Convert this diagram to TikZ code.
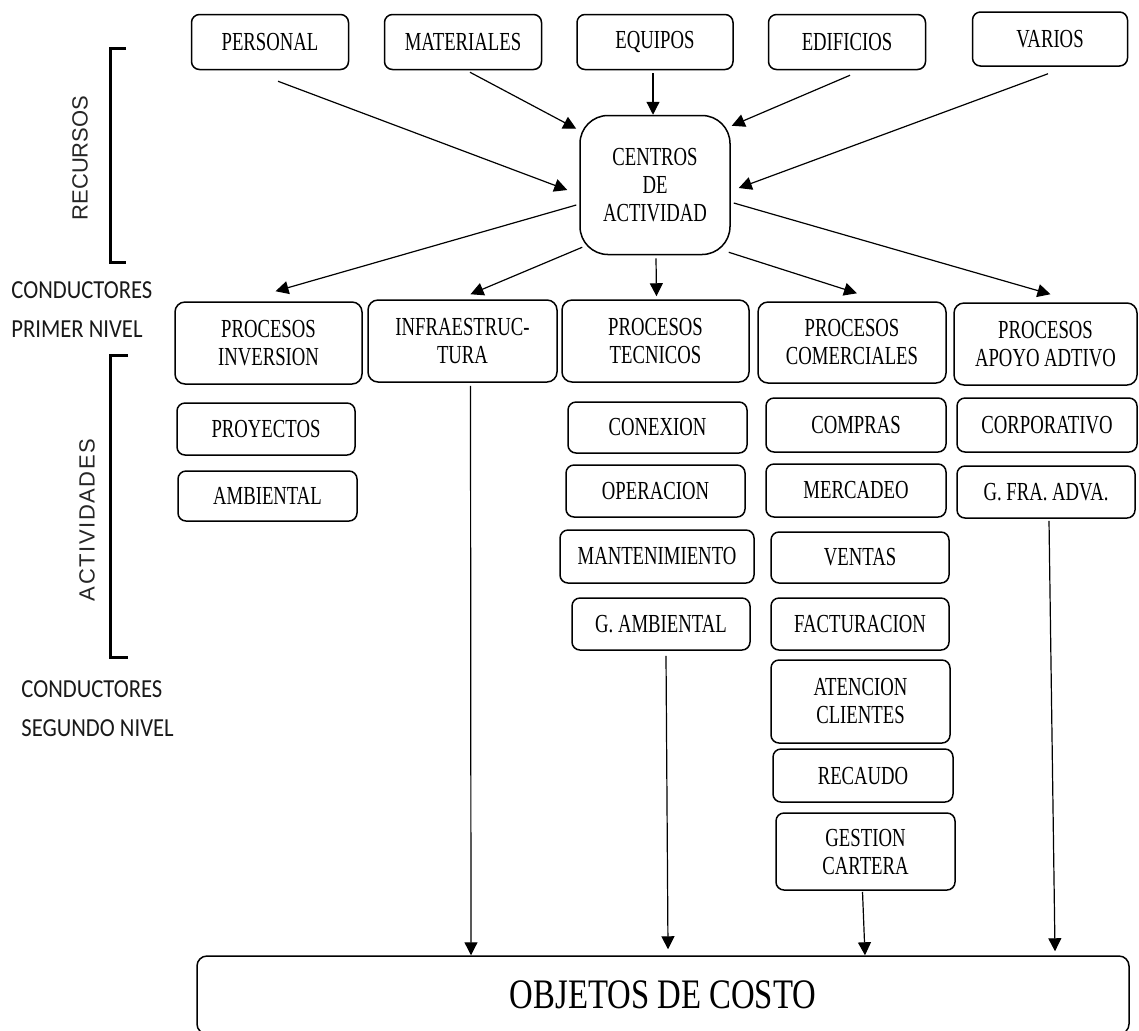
\documentclass[tikz,border=0pt]{standalone}
\usepackage{fontspec}
\setmainfont{Liberation Serif}[FakeStretch=0.72]
\newfontfamily\titulo{Liberation Serif}[FakeStretch=0.78]
\newfontfamily\etiqueta{Carlito}[FakeStretch=0.87]
\newfontfamily\lateral{Liberation Sans}
\newfontfamily\lateralancho{Liberation Sans}[LetterSpace=7]
\usetikzlibrary{arrows.meta}

\tikzset{
    caja/.style={draw, line width=0.75pt, rounded corners=4pt, align=center, inner sep=0pt, font=\fontsize{13}{14}\selectfont},
    flecha/.style={-{Triangle[length=6.5pt,width=6.5pt]}, line width=0.6pt},
    nivel/.style={align=left, anchor=west, inner sep=0pt, text=black!90, font=\etiqueta\fontsize{13}{19.5}\selectfont},
    grupo/.style={rotate=90, inner sep=0pt, text=black!85, font=\lateral\fontsize{11}{12}\selectfont},
}

\begin{document}
\begin{tikzpicture}[x=0.5pt, y=-0.5pt]
    \useasboundingbox (0,0) rectangle (1139,1030);

    % recursos
    \node[caja, minimum width=78.5pt, minimum height=27.5pt] (personal) at (270,42) {PERSONAL};
    \node[caja, minimum width=78.5pt, minimum height=27.5pt] (materiales) at (463,42) {MATERIALES};
    \node[caja, minimum width=78pt, minimum height=27.5pt] (equipos) at (655,42) {EQUIPOS};
    \node[caja, minimum width=78.5pt, minimum height=27.5pt] (edificios) at (847,42) {EDIFICIOS};
    \node[caja, minimum width=77.5pt, minimum height=27pt] (varios) at (1050,39) {VARIOS};

    \node[caja, rounded corners=14pt, minimum width=75pt, minimum height=69.5pt] (centro) at (655,185) {CENTROS\\DE\\ACTIVIDAD};

    % procesos
    \node[caja, rounded corners=5pt, minimum width=93.5pt, minimum height=41pt] (inversion) at (268.5,343) {PROCESOS\\INVERSION};
    \node[caja, rounded corners=5pt, minimum width=94.5pt, minimum height=41pt] (infra) at (462.5,341) {INFRAESTRUC-\\TURA};
    \node[caja, rounded corners=5pt, minimum width=93.5pt, minimum height=41pt] (tecnicos) at (655.5,341) {PROCESOS\\TECNICOS};
    \node[caja, rounded corners=5pt, minimum width=94pt, minimum height=40.5pt] (comerciales) at (852,342.5) {PROCESOS\\COMERCIALES};
    \node[caja, rounded corners=5pt, minimum width=91.5pt, minimum height=41pt] (apoyo) at (1045.5,344) {PROCESOS\\APOYO ADTIVO};

    % actividades
    \node[caja, minimum width=89pt, minimum height=26pt] (proyectos) at (266,429) {PROYECTOS};
    \node[caja, minimum width=89.5pt, minimum height=25pt] (ambiental) at (267.5,496) {AMBIENTAL};

    \node[caja, minimum width=89.5pt, minimum height=25.5pt] (conexion) at (657.5,427.5) {CONEXION};
    \node[caja, minimum width=89.5pt, minimum height=26pt] (operacion) at (655.5,491) {OPERACION};
    \node[caja, minimum width=97pt, minimum height=26.5pt] (mantenimiento) at (657,556.5) {MANTENIMIENTO};
    \node[caja, minimum width=89pt, minimum height=26pt] (gambiental) at (661,624) {G. AMBIENTAL};

    \node[caja, minimum width=90pt, minimum height=27pt] (compras) at (856,425) {COMPRAS};
    \node[caja, minimum width=90pt, minimum height=26.5pt] (mercadeo) at (856,490.5) {MERCADEO};
    \node[caja, minimum width=89pt, minimum height=25.5pt] (ventas) at (860,557.5) {VENTAS};
    \node[caja, minimum width=89pt, minimum height=26pt] (facturacion) at (860,624) {FACTURACION};
    \node[caja, minimum width=89.5pt, minimum height=41.5pt] (atencion) at (860.5,701.5) {ATENCION\\CLIENTES};
    \node[caja, minimum width=90pt, minimum height=26.5pt] (recaudo) at (863,775.5) {RECAUDO};
    \node[caja, minimum width=89.5pt, minimum height=38.5pt] (gestion) at (865.5,851.5) {GESTION\\CARTERA};

    \node[caja, minimum width=90pt, minimum height=27pt] (corporativo) at (1047,425) {CORPORATIVO};
    \node[caja, minimum width=89pt, minimum height=26pt] (gfra) at (1046,492) {G. FRA. ADVA.};

    \node[caja, rounded corners=5pt, minimum width=466pt, minimum height=39pt, font=\titulo\fontsize{21}{24}\selectfont] (objetos) at (663,995) {OBJETOS DE COSTO};

    % textos laterales
    \node[grupo] (recursos) at (80,158) {RECURSOS};
    \node[grupo, font=\lateralancho\fontsize{11}{12}\selectfont] (actividades) at (87,520) {ACTIVIDADES};
    \node[nivel] (primer) at (11,310) {CONDUCTORES\\PRIMER NIVEL};
    \node[nivel] (segundo) at (21,709) {CONDUCTORES\\SEGUNDO NIVEL};
    \draw[line width=1.5pt] (126,48) -- (110,48) -- (110,262) -- (126,262);
    \draw[line width=1.5pt] (128,355) -- (110,355) -- (110,657) -- (128,657);

    % recursos a centro
    \draw[flecha] ([shift={(8,11)}]personal.south) -- ([shift={(-12,5)}]centro.west);
    \draw[flecha] ([shift={(7,2)}]materiales.south) -- ([shift={(-3,14)}]centro.north west);
    \draw[flecha] ([shift={(-2,3)}]equipos.south) -- ([shift={(-2,0)}]centro.north);
    \draw[flecha] ([shift={(3,5)}]edificios.south) -- ([shift={(1,11)}]centro.north east);
    \draw[flecha] ([shift={(-2,7)}]varios.south) -- ([shift={(8,3)}]centro.east);

    % centro a procesos
    \draw[flecha] ([shift={(-3,20)}]centro.west) -- ([shift={(7,-10)}]inversion.north);
    \draw[flecha] ([shift={(3,-8)}]centro.south west) -- ([shift={(8,-5)}]infra.north);
    \draw[flecha] ([shift={(1,3)}]centro.south) -- ([shift={(1,-3)}]tecnicos.north);
    \draw[flecha] ([shift={(-2,-3)}]centro.south east) -- ([shift={(5,-8)}]comerciales.north);
    \draw[flecha] ([shift={(3,18)}]centro.east) -- ([shift={(5,-8)}]apoyo.north);

    % a objetos de costo
    \draw[flecha] ([shift={(8,3)}]infra.south) -- ([shift={(-192,0)}]objetos.north);
    \draw[flecha] ([shift={(5,5)}]gambiental.south) -- ([shift={(5,-6)}]objetos.north);
    \draw[flecha] ([shift={(-3,1)}]gestion.south) -- ([shift={(202,0)}]objetos.north);
    \draw[flecha] ([shift={(3,2)}]gfra.south) -- ([shift={(392,-4)}]objetos.north);
\end{tikzpicture}
\end{document}
